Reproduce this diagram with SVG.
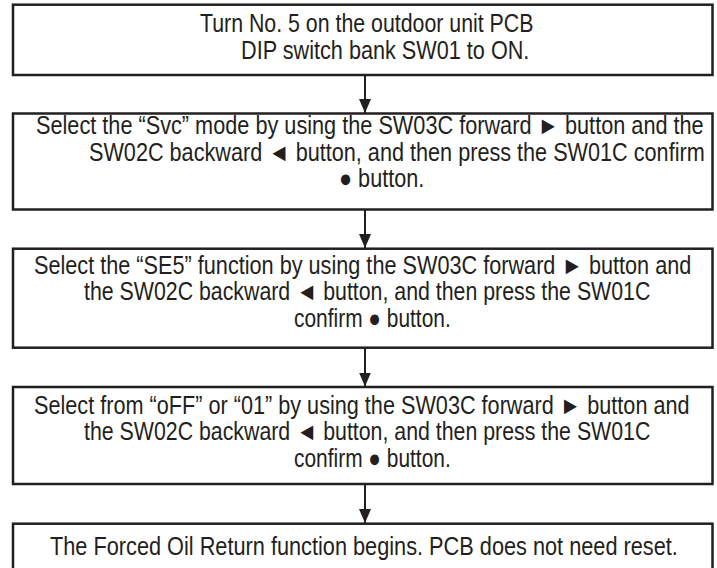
<svg xmlns="http://www.w3.org/2000/svg" width="717" height="568" viewBox="0 0 717 568">
<style>
.box{fill:#fff;stroke:#231f20;stroke-width:2.5}
.t{font-family:"Liberation Sans",Arial,sans-serif;font-size:25px;fill:#231f20}
.c{stroke:#231f20;stroke-width:2;fill:none}
</style>
<defs>
<marker id="ah" markerUnits="userSpaceOnUse" viewBox="0 0 14 12" refX="14" refY="6" markerWidth="14" markerHeight="12" orient="auto">
<path d="M0,0 L14,6 L0,12 z" fill="#231f20"/>
</marker>
</defs>
<rect width="717" height="568" fill="#fff"/>
<g id="connectors">
<path class="c" d="M365,75 V113" marker-end="url(#ah)"/>
<path class="c" d="M365,209.5 V248" marker-end="url(#ah)"/>
<path class="c" d="M365,347.7 V386.5" marker-end="url(#ah)"/>
<path class="c" d="M365,484 V523" marker-end="url(#ah)"/>
</g>
<g id="step1">
<rect class="box" x="13" y="4.7" width="699.5" height="70.3"/>
<text class="t" transform="translate(200,32) scale(0.866,1)" textLength="385" lengthAdjust="spacingAndGlyphs">Turn No. 5 on the outdoor unit PCB</text>
<text class="t" transform="translate(241,59) scale(0.866,1)" textLength="333" lengthAdjust="spacingAndGlyphs">DIP switch bank SW01 to ON.</text>
</g>
<g id="step2">
<rect class="box" x="13" y="113.5" width="699.5" height="96"/>
<text class="t" transform="translate(36,134) scale(0.866,1)" textLength="771" lengthAdjust="spacingAndGlyphs">Select the “Svc” mode by using the SW03C forward ► button and the</text>
<text class="t" transform="translate(89,160.5) scale(0.866,1)" textLength="711" lengthAdjust="spacingAndGlyphs">SW02C backward ◄ button, and then press the SW01C confirm</text>
<text class="t" transform="translate(339,187) scale(0.866,1)" textLength="98.5" lengthAdjust="spacingAndGlyphs">● button.</text>
</g>
<g id="step3">
<rect class="box" x="13" y="248.7" width="699.5" height="99"/>
<text class="t" transform="translate(34,273.5) scale(0.866,1)" textLength="759" lengthAdjust="spacingAndGlyphs">Select the “SE5” function by using the SW03C forward ► button and</text>
<text class="t" transform="translate(84,300) scale(0.866,1)" textLength="654" lengthAdjust="spacingAndGlyphs">the SW02C backward ◄ button, and then press the SW01C</text>
<text class="t" transform="translate(294,326.5) scale(0.866,1)" textLength="181" lengthAdjust="spacingAndGlyphs">confirm ● button.</text>
</g>
<g id="step4">
<rect class="box" x="13" y="387" width="699.5" height="97"/>
<text class="t" transform="translate(34,413.5) scale(0.866,1)" textLength="757" lengthAdjust="spacingAndGlyphs">Select from “oFF” or “01” by using the SW03C forward ► button and</text>
<text class="t" transform="translate(84,440) scale(0.866,1)" textLength="654" lengthAdjust="spacingAndGlyphs">the SW02C backward ◄ button, and then press the SW01C</text>
<text class="t" transform="translate(294,466.5) scale(0.866,1)" textLength="181" lengthAdjust="spacingAndGlyphs">confirm ● button.</text>
</g>
<g id="step5">
<rect class="box" x="13" y="523.7" width="699.5" height="50"/>
<text class="t" transform="translate(50,555) scale(0.866,1)" textLength="725" lengthAdjust="spacingAndGlyphs">The Forced Oil Return function begins. PCB does not need reset.</text>
</g>
</svg>
